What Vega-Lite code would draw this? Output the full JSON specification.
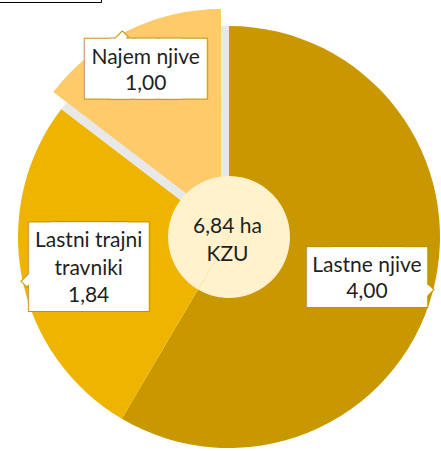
{
  "$schema": "https://vega.github.io/schema/vega-lite/v6.json",
  "width": 428,
  "height": 428,
  "padding": {"left": 15, "top": 23, "right": 0, "bottom": 0},
  "autosize": {"type": "none"},
  "background": "white",
  "config": {"view": {"stroke": null}},
  "data": {
    "values": [
      {"kategorija": "Lastne njive", "ha": 4.00, "oznaka": "Lastne njive\n4,00"},
      {"kategorija": "Lastni trajni travniki", "ha": 1.84, "oznaka": "Lastni trajni\ntravniki\n1,84"},
      {"kategorija": "Najem njive", "ha": 1.00, "oznaka": "Najem njive\n1,00"}
    ]
  },
  "layer": [
    {
      "encoding": {
        "theta": {"field": "ha", "type": "quantitative", "stack": true},
        "detail": {"field": "kategorija", "type": "nominal"}
      },
      "layer": [
        {
          "mark": {"type": "arc", "outerRadius": 211},
          "encoding": {
            "fill": {
              "field": "kategorija", "type": "nominal",
              "scale": {"domain": ["Lastne njive", "Lastni trajni travniki", "Najem njive"], "range": ["#C99800", "#EFB400", "#E8E8E8"]},
              "legend": {"orient": "none", "legendX": -17, "legendY": -78, "title": null, "strokeColor": "black", "fillColor": "white", "padding": 10, "labelLimit": 70}
            }
          }
        },
        {
          "mark": {"type": "arc", "outerRadius": 211, "xOffset": -8, "yOffset": -17, "fill": "#FFCA6A"},
          "encoding": {
            "opacity": {"condition": {"test": "datum.kategorija === 'Najem njive'", "value": 1}, "value": 0}
          }
        },
        {
          "mark": {"type": "arc", "outerRadius": 61, "fill": "#FFF2CC"}
        },

        {
          "mark": {"type": "text", "radius": 143, "font": "DejaVu Sans", "fontSize": 31.6, "fill": "white", "stroke": "#BF9000", "strokeWidth": 24.2, "strokeJoin": "miter", "align": "center", "baseline": "middle", "dy": 4},
          "encoding": {"text": {"condition": {"test": "datum.kategorija === 'Lastne njive'", "value": "████"}, "value": ""}}
        },
        {
          "mark": {"type": "text", "radius": 143, "font": "DejaVu Sans", "fontSize": 9, "angle": 45, "fill": "white", "stroke": "#BF9000", "strokeWidth": 2, "strokeJoin": "miter", "align": "center", "baseline": "middle", "dx": 54, "dy": -30.8},
          "encoding": {"text": {"condition": {"test": "datum.kategorija === 'Lastne njive'", "value": "█"}, "value": ""}}
        },
        {
          "mark": {"type": "text", "radius": 143, "font": "DejaVu Sans", "fontSize": 31.6, "fill": "white", "stroke": "white", "strokeWidth": 22.2, "strokeJoin": "miter", "align": "center", "baseline": "middle", "dy": 4},
          "encoding": {"text": {"condition": {"test": "datum.kategorija === 'Lastne njive'", "value": "████"}, "value": ""}}
        },
        {
          "mark": {"type": "text", "radius": 143, "font": "DejaVu Sans", "fontSize": 9, "angle": 45, "fill": "white", "align": "center", "baseline": "middle", "dx": 54, "dy": -30.8},
          "encoding": {"text": {"condition": {"test": "datum.kategorija === 'Lastne njive'", "value": "█"}, "value": ""}}
        },
        {
          "mark": {"type": "text", "radius": 143, "font": "Lato", "fontSize": 21, "lineHeight": 26.7, "lineBreak": "\n", "fill": "#1f1f1f", "align": "center", "baseline": "middle", "dy": -9},
          "encoding": {"text": {"field": "oznaka", "type": "nominal", "condition": {"test": "datum.kategorija !== 'Lastne njive'", "value": ""}}}
        },

        {
          "mark": {"type": "text", "radius": 143, "font": "DejaVu Sans", "fontSize": 27.3, "fill": "white", "stroke": "#BF9000", "strokeWidth": 58.2, "strokeJoin": "miter", "align": "center", "baseline": "middle", "dy": 3.7},
          "encoding": {"text": {"condition": {"test": "datum.kategorija === 'Lastni trajni travniki'", "value": "███"}, "value": ""}}
        },
        {
          "mark": {"type": "text", "radius": 143, "font": "DejaVu Sans", "fontSize": 9, "angle": 45, "fill": "white", "stroke": "#BF9000", "strokeWidth": 2, "strokeJoin": "miter", "align": "center", "baseline": "middle", "dx": -31.8, "dy": 53.8},
          "encoding": {"text": {"condition": {"test": "datum.kategorija === 'Lastni trajni travniki'", "value": "█"}, "value": ""}}
        },
        {
          "mark": {"type": "text", "radius": 143, "font": "DejaVu Sans", "fontSize": 27.3, "fill": "white", "stroke": "white", "strokeWidth": 56.2, "strokeJoin": "miter", "align": "center", "baseline": "middle", "dy": 3.7},
          "encoding": {"text": {"condition": {"test": "datum.kategorija === 'Lastni trajni travniki'", "value": "███"}, "value": ""}}
        },
        {
          "mark": {"type": "text", "radius": 143, "font": "DejaVu Sans", "fontSize": 9, "angle": 45, "fill": "white", "align": "center", "baseline": "middle", "dx": -31.8, "dy": 53.8},
          "encoding": {"text": {"condition": {"test": "datum.kategorija === 'Lastni trajni travniki'", "value": "█"}, "value": ""}}
        },
        {
          "mark": {"type": "text", "radius": 143, "font": "Lato", "fontSize": 21, "lineHeight": 27.2, "lineBreak": "\n", "fill": "#1f1f1f", "align": "center", "baseline": "middle", "dy": -23},
          "encoding": {"text": {"field": "oznaka", "type": "nominal", "condition": {"test": "datum.kategorija !== 'Lastni trajni travniki'", "value": ""}}}
        },

        {
          "mark": {"type": "text", "radius": 188, "font": "DejaVu Sans", "fontSize": 32.6, "fill": "white", "stroke": "#BF9000", "strokeWidth": 23, "strokeJoin": "miter", "align": "center", "baseline": "middle", "dy": 1.5},
          "encoding": {"text": {"condition": {"test": "datum.kategorija === 'Najem njive'", "value": "████"}, "value": ""}}
        },
        {
          "mark": {"type": "text", "radius": 188, "font": "DejaVu Sans", "fontSize": 9, "angle": 45, "fill": "white", "stroke": "#BF9000", "strokeWidth": 2, "strokeJoin": "miter", "align": "center", "baseline": "middle", "dx": -39, "dy": -4.1},
          "encoding": {"text": {"condition": {"test": "datum.kategorija === 'Najem njive'", "value": "█"}, "value": ""}}
        },
        {
          "mark": {"type": "text", "radius": 188, "font": "DejaVu Sans", "fontSize": 32.6, "fill": "white", "stroke": "white", "strokeWidth": 21, "strokeJoin": "miter", "align": "center", "baseline": "middle", "dy": 1.5},
          "encoding": {"text": {"condition": {"test": "datum.kategorija === 'Najem njive'", "value": "████"}, "value": ""}}
        },
        {
          "mark": {"type": "text", "radius": 188, "font": "DejaVu Sans", "fontSize": 9, "angle": 45, "fill": "white", "align": "center", "baseline": "middle", "dx": -39, "dy": -4.1},
          "encoding": {"text": {"condition": {"test": "datum.kategorija === 'Najem njive'", "value": "█"}, "value": ""}}
        },
        {
          "mark": {"type": "text", "radius": 188, "font": "Lato", "fontSize": 21, "lineHeight": 26, "lineBreak": "\n", "fill": "#1f1f1f", "align": "center", "baseline": "middle", "dy": -10.5},
          "encoding": {"text": {"field": "oznaka", "type": "nominal", "condition": {"test": "datum.kategorija !== 'Najem njive'", "value": ""}}}
        }
      ]
    },
    {
      "transform": [
        {"aggregate": [{"op": "sum", "field": "ha", "as": "skupaj"}]},
        {"calculate": "[replace(format(datum.skupaj, '.2f'), '.', ',') + ' ha', 'KZU']", "as": "napis"}
      ],
      "mark": {"type": "text", "font": "Lato", "fontSize": 21, "lineHeight": 27.4, "fill": "#1f1f1f", "align": "center", "baseline": "middle", "dy": -9.7, "dx": -1.5},
      "encoding": {"text": {"field": "napis", "type": "nominal"}}
    }
  ]
}
